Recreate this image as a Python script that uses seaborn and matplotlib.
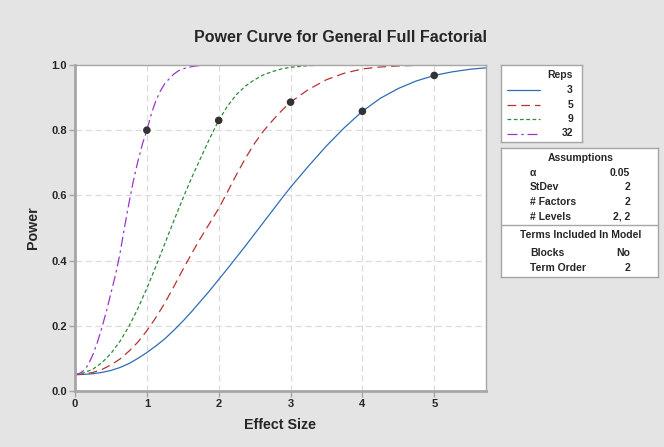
import pandas as pd
import seaborn as sns
import matplotlib.pyplot as plt

# Power, one list per number of reps
effect_a = [0, .125, .25, .375, .5, .625, .75, .875, 1.0, 1.125, 1.25, 1.375,
            1.5, 1.625, 1.75, 1.875, 2.0, 2.125, 2.25, 2.375, 2.5, 2.625, 2.75, 2.875,
            3.0, 3.25, 3.5, 3.75, 4.0, 4.25, 4.5, 4.75, 5.0, 5.25, 5.5, 5.75]
power_3 = [.050, .051, .053, .057, .063, .072, .084, .100, .118, .138, .160, .186,
           .214, .244, .276, .308, .342, .376, .411, .446, .482, .518, .554, .590,
           .625, .690, .752, .808, .858, .898, .928, .951, .968, .979, .987, .992]
power_5 = [.050, .052, .057, .066, .080, .098, .122, .150, .185, .225, .270, .320,
           .372, .422, .470, .515, .560, .612, .665, .715, .760, .798, .830, .860,
           .886, .925, .955, .975, .988, .994, .997, .999, 1.0, 1.0, 1.0, 1.0]
power_9 = [.050, .056, .067, .087, .115, .152, .198, .253, .315, .382, .452, .522,
           .590, .655, .715, .775, .830, .875, .910, .936, .955, .970, .980, .988,
           .993, .998, 1.0, 1.0, 1.0, 1.0, 1.0, 1.0, 1.0, 1.0, 1.0, 1.0]
effect_b = [0, .0625, .125, .1875, .25, .3125, .375, .4375, .5, .5625, .625, .6875,
            .75, .8125, .875, .9375, 1.0, 1.0625, 1.125, 1.1875, 1.25, 1.3125, 1.375, 1.4375,
            1.5, 1.5625, 1.625, 1.6875, 1.75, 2.0, 3.0, 4.0, 5.0, 5.75]
power_32 = [.050, .054, .063, .082, .112, .150, .195, .245, .300, .355, .420, .500,
            .575, .645, .705, .757, .800, .850, .890, .920, .943, .958, .972, .982,
            .988, .992, .995, .997, .999, 1.0, 1.0, 1.0, 1.0, 1.0]

# highlighted points
dot_x = [1, 2, 3, 4, 5]
dot_y = [0.80, 0.83, 0.886, 0.858, 0.968]

reps = ['3', '5', '9', '32']
colors = ['#2f6db5', '#b83232', '#2e8b3a', '#9b35c9']
dashes = [(None, None), (7, 4), (3, 2), (8, 3, 2, 3)]

assumptions = [('α', '0.05'), ('StDev', '2'), ('# Factors', '2'), ('# Levels', '2, 2')]
model_terms = [('Blocks', 'No'), ('Term Order', '2')]

sns.set_style('white')
plt.rcParams['font.family'] = ['Liberation Sans', 'DejaVu Sans']
plt.rcParams['font.weight'] = 'bold'

W, H = 664, 447
bg = '#e4e4e4'
edge = '#a6a6a6'
fig = plt.figure(figsize=(W / 100, H / 100), dpi=100, facecolor=bg)

# main axes placed in pixel terms
l, r, t, b = 75, 486, 65, 391
ax = fig.add_axes([l / W, 1 - b / H, (r - l) / W, (b - t) / H])

df = pd.concat([
    pd.DataFrame({'effect': effect_a, 'power': power_3, 'reps': '3'}),
    pd.DataFrame({'effect': effect_a, 'power': power_5, 'reps': '5'}),
    pd.DataFrame({'effect': effect_a, 'power': power_9, 'reps': '9'}),
    pd.DataFrame({'effect': effect_b, 'power': power_32, 'reps': '32'}),
])

for rp, c, d in zip(reps, colors, dashes):
    sub = df[df.reps == rp]
    line = sns.lineplot(data=sub, x='effect', y='power', color=c, lw=0.9, ax=ax,
                        legend=False, estimator=None, sort=True).lines[-1]
    if d[0] is not None:
        line.set_dashes(d)

sns.scatterplot(x=dot_x, y=dot_y, color='#333333', s=30, edgecolor='none', ax=ax, zorder=5)

ax.set_xlim(0, 5.72)
ax.set_ylim(0, 1.0)
ax.set_xticks([0, 1, 2, 3, 4, 5])
ax.set_yticks([0, .2, .4, .6, .8, 1.0])
ax.set_yticklabels(['0.0', '0.2', '0.4', '0.6', '0.8', '1.0'])
for v in [1, 2, 3, 4, 5]:
    ax.axvline(v, color='#dcdcdc', lw=0.9, ls=(0, (5, 3)), zorder=0)
for v in [.2, .4, .6, .8]:
    ax.axhline(v, color='#dcdcdc', lw=0.9, ls=(0, (5, 3)), zorder=0)

for s in ax.spines.values():
    s.set_color(edge)
    s.set_linewidth(1.0)
ax.spines['left'].set_linewidth(2)
ax.spines['bottom'].set_linewidth(2)
ax.tick_params(axis='both', length=4, width=1, color=edge, labelsize=8, pad=2,
               bottom=True, left=True, direction='out')
for lab in ax.get_xticklabels() + ax.get_yticklabels():
    lab.set_fontweight('bold')
ax.set_xlabel('Effect Size', fontsize=10.3, fontweight='bold', labelpad=6)
ax.set_ylabel('Power', fontsize=10.3, fontweight='bold', labelpad=8)
fig.text(340 / W, 1 - 37 / H, 'Power Curve for General Full Factorial',
         ha='center', va='center', fontsize=11.5, fontweight='bold')


def box(x0, y0, x1, y1):
    bx = fig.add_axes([x0 / W, 1 - y1 / H, (x1 - x0) / W, (y1 - y0) / H])
    bx.set_xlim(x0, x1)
    bx.set_ylim(y1, y0)
    bx.set_xticks([])
    bx.set_yticks([])
    bx.set_facecolor('white')
    for s in bx.spines.values():
        s.set_color(edge)
        s.set_linewidth(1)
    return bx


# legend box
lg = box(501, 65, 582, 142)
lg.text(573, 75, 'Reps', ha='right', va='center', fontsize=7.5, fontweight='bold')
for i, (rp, c, d) in enumerate(zip(reps, colors, dashes)):
    y = 90 + i * 14.5
    ln, = lg.plot([507, 540], [y, y], color=c, lw=0.9)
    if d[0] is not None:
        ln.set_dashes(d)
    lg.text(573, y, rp, ha='right', va='center', fontsize=7.5, fontweight='bold')

# assumptions box
ab = box(501, 148, 658, 277)
ab.text(581, 158, 'Assumptions', ha='center', va='center', fontsize=7.5, fontweight='bold')
for i, (k, v) in enumerate(assumptions):
    y = 173 + i * 14.5
    ab.text(530, y, k, ha='left', va='center', fontsize=7.5, fontweight='bold')
    ab.text(630, y, v, ha='right', va='center', fontsize=7.5, fontweight='bold')
ab.axhline(225, color=edge, lw=1)
ab.text(581, 235, 'Terms Included In Model', ha='center', va='center', fontsize=7.5, fontweight='bold')
for i, (k, v) in enumerate(model_terms):
    y = 253 + i * 15
    ab.text(530, y, k, ha='left', va='center', fontsize=7.5, fontweight='bold')
    ab.text(630, y, v, ha='right', va='center', fontsize=7.5, fontweight='bold')

fig.savefig('out.png', dpi=100, facecolor=bg)
